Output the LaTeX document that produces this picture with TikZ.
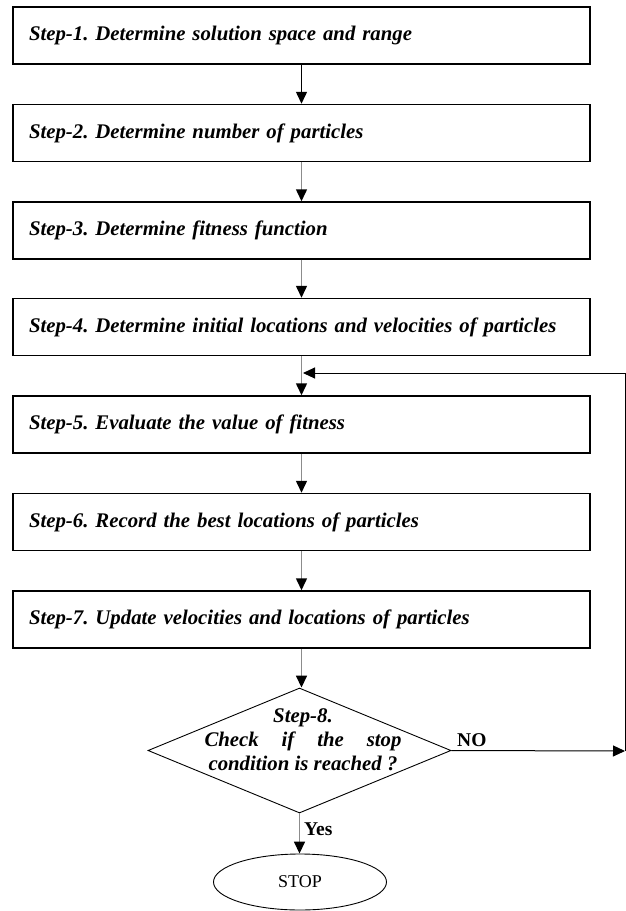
\documentclass[tikz,border=0pt]{standalone}
\usepackage{fontspec}
\setmainfont{Liberation Serif}
\frenchspacing
\usetikzlibrary{shapes.geometric,arrows.meta}
\begin{document}
\begin{tikzpicture}[x=1pt,y=-1pt,
  stepbox/.style={draw=black,line width=1.5pt,minimum width=577pt,minimum height=57pt,
    text width=545pt,inner xsep=16pt,align=left,font=\fontsize{20.8}{24}\selectfont\bfseries\itshape,anchor=center},
  flow/.style={draw=black!45,line width=1.5pt,-{Triangle[length=12pt,width=11pt,black]}},
  back/.style={draw=black,line width=1pt,-{Triangle[length=12pt,width=11pt,black]}},
  lab/.style={font=\fontsize{19.5}{22}\selectfont\bfseries,inner sep=0pt}]
\useasboundingbox (0,0) rectangle (626,911);
\node[stepbox] (b1) at (301.5,35.5) {Step-1. Determine solution space and range};
\node[stepbox] (b2) at (301.5,133) {Step-2. Determine number of particles};
\node[stepbox] (b3) at (301.5,230.5) {Step-3. Determine fitness function};
\node[stepbox] (b4) at (301.5,327) {Step-4. Determine initial locations and velocities of particles};
\node[stepbox] (b5) at (301.5,424.5) {Step-5. Evaluate the value of fitness};
\node[stepbox] (b6) at (301.5,522) {Step-6. Record the best locations of particles};
\node[stepbox] (b7) at (301.5,619.5) {Step-7. Update velocities and locations of particles};
\node[draw=black,line width=0.9pt,diamond,minimum width=303pt,minimum height=125pt,inner sep=0pt] (d) at (299.5,750.5) {};
\node[align=center,inner sep=0pt,font=\fontsize{20.8}{24}\selectfont\bfseries\itshape] (dt) at (303,740) {Step-8.\\\makebox[197pt][s]{Check if the stop}\\condition is reached ?};
\node[draw=black,line width=0.9pt,ellipse,minimum width=173pt,minimum height=56pt,inner sep=0pt,font=\fontsize{18}{20}\selectfont] (stop) at (300,882) {STOP};
\coordinate (c1) at (625,751);
\coordinate (j) at (303,373);
\draw[draw=black,line width=1.5pt,-{Triangle[length=12pt,width=11pt,black]}] (b1) -- (b2);
\draw[flow] (b2) -- (b3);
\draw[flow] (b3) -- (b4);
\draw[flow] (b4) -- (b5);
\draw[flow] (b5) -- (b6);
\draw[flow] (b6) -- (b7);
\draw[flow] (b7.south) -- (b7.south |- d.north);
\draw[flow] (d.south) -- (d.south |- stop.north);
\draw[back] (d.east) -- (c1);
\draw[back] (c1) |- (j);
\node[lab,anchor=west] (no) at (457,740) {NO};
\node[lab,anchor=west] (yes) at (304,829) {Yes};
\end{tikzpicture}
\end{document}
